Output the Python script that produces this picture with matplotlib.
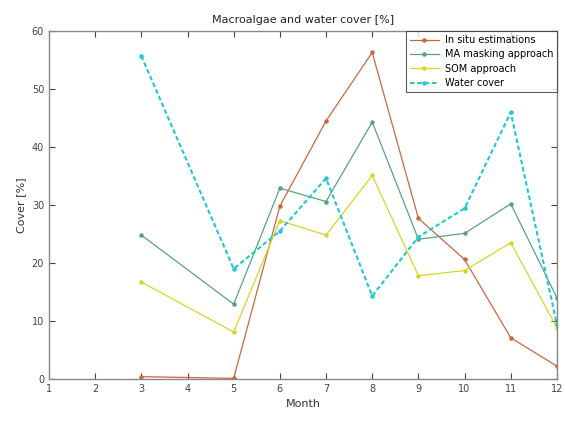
import matplotlib
matplotlib.use("Agg")
import matplotlib.pyplot as plt

months = [3, 5, 6, 7, 8, 9, 10, 11, 12]
in_situ = [0.4, 0.1, 29.8, 44.5, 56.3, 27.7, 20.6, 7.1, 2.2]
ma_masking = [24.8, 12.9, 32.9, 30.6, 44.3, 24.1, 25.1, 30.2, 14.0]
som = [16.7, 8.1, 27.3, 24.8, 35.1, 17.8, 18.7, 23.5, 8.8]
water = [55.7, 19.0, 25.5, 34.6, 14.3, 24.5, 29.4, 46.0, 9.4]

labels = ["In situ estimations", "MA masking approach", "SOM approach", "Water cover"]
colors = ["#c9683f", "#5aa380", "#d6d62a", "#22c8d0"]

plt.rcParams['font.family'] = ['DejaVu Sans']
fig = plt.figure(figsize=(5.65, 4.22), dpi=100)
ax = fig.add_axes([0.0867, 0.102, 0.899, 0.8245])

ax.plot(months, in_situ, '-', color=colors[0], marker='.', ms=4.5, lw=0.9, label=labels[0])
ax.plot(months, ma_masking, '-', color=colors[1], marker='.', ms=4.5, lw=0.9, label=labels[1])
ax.plot(months, som, '-', color=colors[2], marker='.', ms=4.5, lw=0.9, label=labels[2])
ax.plot(months, water, color=colors[3], marker='.', ms=4.5, lw=1.5, linestyle=(0, (2.2, 1.3)),
        label=labels[3])

ax.set_xlim(1, 12)
ax.set_ylim(0, 60)
ax.set_xticks(range(1, 13))
ax.set_yticks(range(0, 61, 10))
ax.tick_params(direction='in', top=True, right=True, labelsize=7, colors='#444444', length=4)
for s in ax.spines.values():
    s.set_color('#888888')
    s.set_linewidth(1.0)
ax.set_xlabel("Month", fontsize=8, color='#333333')
ax.set_ylabel("Cover [%]", fontsize=8, color='#333333')
ax.set_title("Macroalgae and water cover [%]", fontsize=8, color='#222222')

leg = ax.legend(loc='upper right', fontsize=7, frameon=True, fancybox=False,
                borderaxespad=0.0, handlelength=3.0, labelspacing=0.45, handletextpad=0.6)
leg.get_frame().set_edgecolor('#333333')
leg.get_frame().set_linewidth(0.8)

fig.savefig("out.png", dpi=100)
